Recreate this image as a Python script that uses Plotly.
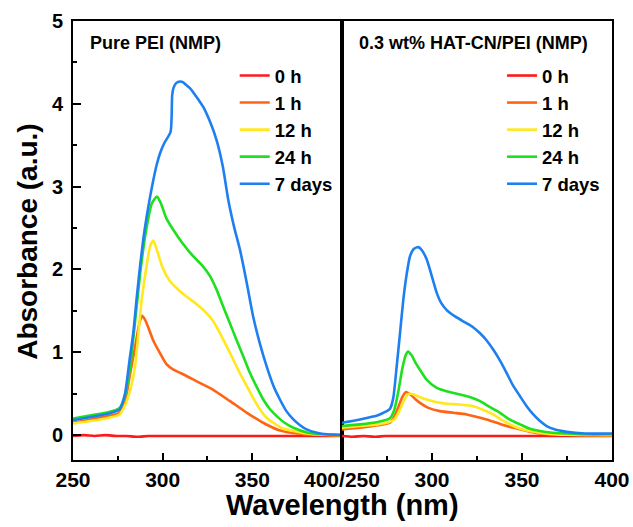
import plotly.graph_objects as go

# ---------------- data ----------------
labels = ["0 h", "1 h", "12 h", "24 h", "7 days"]
colors = ["#FF1A1A", "#FF6414", "#FFE81E", "#1EE01E", "#1E7FF0"]
xtick_left = ["250", "300", "350", "400/250"]
xtick_right = ["", "300", "350", "400"]

# Left panel: Pure PEI (NMP)
L0_x = [250, 256, 262, 268, 274, 280, 286, 292, 300, 320, 340, 360, 380, 400]
L0_y = [-0.01, 0.0, -0.01, 0.0, -0.01, -0.01, -0.02, -0.01, -0.01, -0.01, -0.01, -0.01, -0.01, -0.01]

L1_x = [250, 260, 270, 276, 279, 281.5, 284.5, 287, 288.5, 290, 292, 295, 298.5, 302, 306, 310, 319, 328,
        337.6, 347, 356, 365, 375, 385, 400]
L1_y = [0.15, 0.19, 0.23, 0.27, 0.40, 0.70, 1.05, 1.35, 1.44, 1.40, 1.30, 1.13, 0.99, 0.86, 0.79, 0.75, 0.65, 0.55,
        0.41, 0.27, 0.15, 0.06, 0.02, 0.005, 0.0]

L12_x = [250, 260, 270, 276, 279, 282, 284.6, 288.3, 291, 293, 294.8, 297, 300, 304, 309, 313.4, 319, 324.6, 328,
         332, 336, 339.4, 343, 347, 351, 354.3, 358, 361.7, 367, 373, 380, 390, 400]
L12_y = [0.14, 0.17, 0.21, 0.25, 0.36, 0.55, 0.83, 1.63, 2.04, 2.28, 2.35, 2.22, 2.02, 1.86, 1.75, 1.67, 1.58, 1.47,
         1.38, 1.23, 1.06, 0.91, 0.75, 0.59, 0.43, 0.31, 0.21, 0.15, 0.08, 0.05, 0.02, 0.005, 0.0]

L24_x = [250, 260, 270, 276, 279, 282, 285, 288, 291, 294, 296.8, 299, 302, 305.9, 311, 317, 322, 326.4, 330,
         333.8, 337.5, 341.2, 345, 348.7, 352.5, 356.1, 360, 363.6, 368, 372.9, 381, 390, 400]
L24_y = [0.20, 0.24, 0.28, 0.33, 0.48, 0.85, 1.45, 2.05, 2.50, 2.80, 2.88, 2.80, 2.62, 2.48, 2.32, 2.16, 2.05, 1.92,
         1.76, 1.55, 1.35, 1.15, 0.95, 0.75, 0.58, 0.43, 0.31, 0.23, 0.15, 0.09, 0.03, 0.01, 0.0]

L7_x = [250, 260, 270, 276, 279, 281.5, 283.6, 285.5, 287.4, 289.3, 291.1, 293, 294.8, 296.5, 298.5, 301, 304.4,
        305.3, 306, 307.5, 309.7, 311.5, 313, 315.2, 319, 322.7, 326.5, 330.1, 333.5, 336.6, 340, 343.1, 346.8,
        350.5, 354.3, 358, 361.7, 365.4, 369, 372.9, 376.6, 380.3, 386, 391.5, 400]
L7_y = [0.18, 0.22, 0.26, 0.31, 0.50, 0.90, 1.23, 1.65, 2.04, 2.38, 2.64, 2.88, 3.08, 3.25, 3.40, 3.53, 3.66,
        4.10, 4.19, 4.25, 4.27, 4.26, 4.23, 4.19, 4.08, 3.96, 3.78, 3.56, 3.25, 2.84, 2.50, 2.24, 1.85,
        1.43, 1.10, 0.83, 0.60, 0.43, 0.29, 0.19, 0.12, 0.07, 0.03, 0.01, 0.0]

# Right panel: 0.3 wt% HAT-CN/PEI (NMP)
R0_x = [250, 256, 262, 268, 274, 280, 286, 292, 300, 320, 340, 360, 380, 400]
R0_y = [-0.01, -0.02, -0.01, -0.02, -0.01, -0.01, -0.01, -0.01, -0.01, -0.01, -0.01, -0.01, -0.01, -0.01]

R1_x = [250, 260, 270, 276.7, 279, 281.5, 283.5, 285.6, 288, 290.5, 293.3, 298, 304.4, 312, 319.3, 325, 330.4,
        336, 341.5, 347, 352.6, 360, 370, 385, 400]
R1_y = [0.07, 0.09, 0.12, 0.15, 0.22, 0.35, 0.46, 0.52, 0.49, 0.44, 0.39, 0.33, 0.29, 0.27, 0.25, 0.22, 0.19,
        0.15, 0.11, 0.08, 0.05, 0.02, 0.01, 0.0, 0.0]

R12_x = [250, 260, 270, 276.7, 279.5, 282, 284.5, 286.5, 287.8, 290, 293, 297, 302, 308.2, 315, 322.9, 328, 334,
         339, 345.2, 350, 356.3, 365, 375, 400]
R12_y = [0.09, 0.11, 0.13, 0.16, 0.20, 0.30, 0.42, 0.49, 0.50, 0.49, 0.46, 0.43, 0.40, 0.38, 0.37, 0.35, 0.31, 0.25,
         0.18, 0.11, 0.07, 0.04, 0.015, 0.005, 0.0]

R24_x = [250, 260, 270, 276.5, 279, 281.5, 283.5, 285.5, 286.8, 288.5, 291, 293.3, 297, 302.6, 308, 315.6, 321,
         326.7, 332, 337.8, 343, 348.9, 354, 360, 367, 374.8, 385, 400]
R24_y = [0.11, 0.13, 0.16, 0.20, 0.30, 0.55, 0.80, 0.97, 1.01, 0.97, 0.87, 0.79, 0.67, 0.57, 0.53, 0.49, 0.46,
         0.41, 0.34, 0.27, 0.19, 0.13, 0.08, 0.05, 0.03, 0.02, 0.01, 0.01]

R7_x = [250, 260, 270, 274, 276.7, 278.5, 280.4, 282.2, 284.1, 286, 287.8, 290, 292.4, 294.5, 297.1, 299.5, 302.6,
        305, 308.2, 313, 319.3, 323, 326.7, 330.5, 334.1, 337.8, 341.5, 345, 348.9, 352.6, 356.3, 360, 363.7,
        368, 374.8, 385, 400]
R7_y = [0.15, 0.19, 0.24, 0.28, 0.32, 0.45, 0.83, 1.22, 1.64, 1.95, 2.16, 2.25, 2.27, 2.23, 2.12, 1.95, 1.72,
        1.60, 1.51, 1.43, 1.35, 1.30, 1.23, 1.14, 1.03, 0.90, 0.75, 0.60, 0.47, 0.35, 0.25, 0.17, 0.11,
        0.07, 0.04, 0.02, 0.02]

left_series = [(L0_x, L0_y), (L1_x, L1_y), (L12_x, L12_y), (L24_x, L24_y), (L7_x, L7_y)]
right_series = [(R0_x, R0_y), (R1_x, R1_y), (R12_x, R12_y), (R24_x, R24_y), (R7_x, R7_y)]

# ---------------- figure ----------------
FONT = "Liberation Sans, Arial, sans-serif"
fig = go.Figure()

for (xs, ys), name, col in zip(left_series, labels, colors):
    fig.add_trace(go.Scatter(x=xs, y=ys, mode="lines", name=name, xaxis="x", yaxis="y",
                             line=dict(color=col, width=2.6, shape="spline", smoothing=0.6),
                             legend="legend"))
for (xs, ys), name, col in zip(right_series, labels, colors):
    fig.add_trace(go.Scatter(x=xs, y=ys, mode="lines", name=name, xaxis="x2", yaxis="y2",
                             line=dict(color=col, width=2.6, shape="spline", smoothing=0.6),
                             legend="legend2"))

xtickfont = dict(family=FONT, size=21, color="black", weight="bold")
ytickfont = dict(family=FONT, size=20, color="black", weight="bold")
legfont = dict(family=FONT, size=18.5, color="black", weight="bold")
split = 0.499

common_x = dict(range=[250, 400], showline=True, linecolor="black", linewidth=2, mirror=True,
                ticks="inside", ticklen=7, tickwidth=2, tickcolor="black", showgrid=False,
                zeroline=False, tickfont=xtickfont,
                minor=dict(tickvals=[275, 325, 375], ticks="inside", ticklen=4, tickwidth=2,
                           tickcolor="black", showgrid=False))

fig.update_layout(
    width=633, height=527,
    margin=dict(l=73, r=21, t=21, b=67, autoexpand=False),
    paper_bgcolor="white", plot_bgcolor="white",
    xaxis=dict(domain=[0, split], anchor="y", tickmode="array",
               tickvals=[250, 300, 350, 400], ticktext=xtick_left, **common_x),
    xaxis2=dict(domain=[split, 1], anchor="y2", tickmode="array",
                tickvals=[250, 300, 350, 400], ticktext=xtick_right, **common_x),
    yaxis=dict(range=[-0.3, 5], anchor="x", showline=True, linecolor="black", linewidth=2, mirror=True,
               tickmode="array", tickvals=[0, 1, 2, 3, 4, 5], ticks="inside", ticklen=8, tickwidth=2,
               tickcolor="black", showgrid=False, zeroline=False, tickfont=ytickfont,
               ticklabelstandoff=4,
               minor=dict(tickvals=[0.5, 1.5, 2.5, 3.5, 4.5], ticks="inside", ticklen=4, tickwidth=2,
                          tickcolor="black", showgrid=False)),
    yaxis2=dict(range=[-0.3, 5], anchor="x2", matches="y", showline=True, linecolor="black", linewidth=2,
                mirror=True, showticklabels=False, ticks="", showgrid=False, zeroline=False),
    legend=dict(x=0.300, y=0.918, xanchor="left", yanchor="top", bgcolor="rgba(0,0,0,0)",
                font=legfont, tracegroupgap=0, itemwidth=30),
    legend2=dict(x=0.796, y=0.918, xanchor="left", yanchor="top", bgcolor="rgba(0,0,0,0)",
                 font=legfont, tracegroupgap=0, itemwidth=30),
    showlegend=True,
)

fig.add_annotation(text="Pure PEI (NMP)", xref="x domain", yref="paper", x=0.055, y=0.95,
                   xanchor="left", yanchor="middle", showarrow=False,
                   font=dict(family=FONT, size=18, color="black", weight="bold"))
fig.add_annotation(text="0.3 wt% HAT-CN/PEI (NMP)", xref="x2 domain", yref="paper", x=0.055, y=0.95,
                   xanchor="left", yanchor="middle", showarrow=False,
                   font=dict(family=FONT, size=18, color="black", weight="bold"))
fig.add_annotation(text="Wavelength (nm)", xref="paper", yref="paper", x=0.5, y=-0.1025,
                   xanchor="center", yanchor="middle", showarrow=False,
                   font=dict(family=FONT, size=29, color="black", weight="bold"))
fig.add_annotation(text="Absorbance (a.u.)", xref="paper", yref="paper", x=-0.0835, y=0.497,
                   xanchor="center", yanchor="middle", showarrow=False, textangle=-90,
                   font=dict(family=FONT, size=28, color="black", weight="bold"))

fig.write_html("out.html")
